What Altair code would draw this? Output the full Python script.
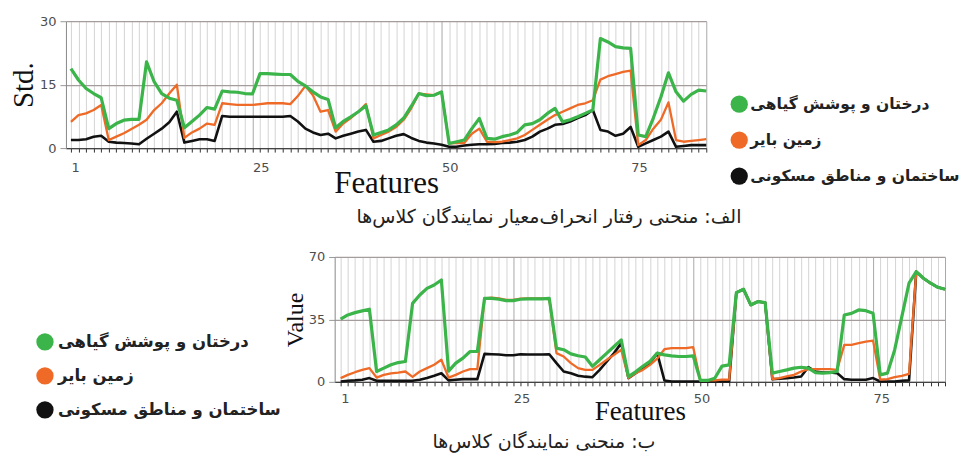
import altair as alt
import pandas as pd

features = list(range(1, 86))
classes = ["درختان و پوشش گیاهی", "زمین بایر", "ساختمان و مناطق مسکونی"]
colors = ["#3bb44a", "#ee6a26", "#111111"]
x_label_values = [1, 25, 50, 75]
std_ticks = [0, 15, 30]
value_ticks = [0, 35, 70]
caption_top = "الف: منحنی رفتار انحراف\u200cمعیار نمایندگان کلاس\u200cها"
caption_bottom = "ب: منحنی نمایندگان کلاس\u200cها"

std_green = [18.8, 16.1, 14.1, 12.9, 11.9, 4.6, 5.8, 6.6, 6.8, 6.8,
             20.4, 15.7, 12.9, 11.8, 11.3, 4.8, 6.3, 7.8, 9.6, 9.2,
             13.5, 13.3, 13.2, 12.9, 12.8, 17.6, 17.6, 17.5, 17.4, 17.4,
             15.8, 14.7, 13.3, 12.1, 11.5, 4.8, 6.3, 7.4, 8.6, 10.0,
             3.1, 3.7, 4.3, 5.5, 7.1, 9.9, 12.9, 12.4, 12.5, 13.3,
             1.1, 1.5, 1.9, 4.6, 7.0, 2.3, 2.1, 2.7, 3.1, 3.7,
             5.5, 5.8, 6.7, 8.2, 9.4, 6.2, 6.7, 7.4, 8.2, 9.0,
             25.9, 25.1, 24.0, 23.7, 23.6, 3.1, 2.7, 7.1, 12.1, 17.8,
             13.3, 11.1, 12.7, 13.7, 13.5]
std_orange = [6.2, 7.8, 8.2, 9.0, 10.2, 1.9, 2.7, 3.5, 4.5, 5.5,
              6.7, 9.0, 10.6, 12.9, 15.0, 2.4, 3.7, 4.6, 5.8, 5.5,
              10.6, 10.4, 10.2, 10.2, 10.2, 10.4, 10.6, 10.6, 10.6, 10.4,
              12.3, 14.7, 12.5, 8.6, 9.0, 3.9, 5.8, 7.1, 8.6, 10.4,
              2.3, 3.1, 3.9, 5.0, 6.7, 9.4, 12.9, 12.7, 12.5, 13.3,
              1.1, 1.2, 1.2, 3.4, 4.6, 1.5, 1.4, 1.5, 1.9, 2.3,
              3.1, 4.3, 5.5, 6.7, 7.8, 8.6, 9.4, 10.2, 10.6, 11.3,
              16.2, 17.0, 17.5, 18.0, 18.3, 0.7, 1.9, 4.6, 6.7, 10.8,
              1.9, 1.5, 1.7, 1.9, 2.1]
std_black = [1.9, 1.9, 2.1, 2.7, 2.9, 1.5, 1.3, 1.2, 1.1, 0.9,
             2.2, 3.4, 4.6, 6.1, 8.6, 1.3, 1.7, 2.1, 2.1, 1.7,
             7.6, 7.4, 7.4, 7.4, 7.4, 7.4, 7.4, 7.4, 7.4, 7.6,
             6.3, 4.6, 3.7, 3.1, 3.4, 2.3, 2.9, 3.4, 3.9, 4.3,
             1.5, 1.7, 2.3, 2.9, 3.3, 2.4, 1.7, 1.3, 1.1, 0.8,
             0.3, 0.3, 0.6, 0.8, 0.9, 0.9, 1.0, 1.2, 1.3, 1.5,
             1.9, 2.7, 3.9, 4.6, 5.5, 5.7, 6.3, 7.1, 7.8, 9.0,
             4.3, 3.9, 2.9, 3.4, 5.0, 0.3, 1.1, 1.9, 2.7, 3.9,
             0.3, 0.5, 0.7, 0.7, 0.7]

val_green = [35.1, 37.5, 38.8, 39.8, 40.7, 5.8, 7.7, 9.6, 10.8, 11.4,
             44.0, 48.7, 52.4, 54.3, 57.1, 6.0, 10.5, 13.3, 17.0, 17.0,
             46.8, 46.8, 46.3, 45.5, 45.5, 46.3, 46.5, 46.5, 46.5, 46.8,
             18.9, 18.0, 15.7, 14.6, 13.9, 8.7, 12.4, 16.1, 19.8, 23.5,
             2.9, 5.6, 8.7, 11.5, 16.1, 15.1, 14.6, 14.2, 14.2, 14.6,
             0.8, 0.8, 2.0, 8.8, 9.5, 50.0, 51.9, 43.1, 45.0, 44.4,
             4.9, 5.8, 6.7, 7.7, 8.2, 7.7, 5.2, 4.9, 5.2, 5.8,
             37.5, 38.4, 40.3, 39.9, 38.4, 3.9, 4.9, 17.9, 36.6, 55.3,
             61.8, 58.1, 55.3, 53.0, 51.9]
val_orange = [2.1, 3.9, 5.4, 6.7, 7.7, 2.4, 3.9, 4.8, 5.2, 5.8,
              2.8, 5.8, 7.7, 9.6, 12.4, 2.4, 3.9, 5.8, 7.1, 7.1,
              46.8, 47.2, 46.8, 46.0, 46.0, 46.6, 46.8, 46.8, 46.8, 46.3,
              16.1, 14.2, 10.5, 7.7, 6.7, 6.7, 9.5, 12.4, 15.1, 18.0,
              2.1, 4.8, 6.7, 9.5, 13.0, 18.3, 18.9, 18.9, 18.9, 19.4,
              0.8, 0.8, 0.8, 1.2, 1.2, 50.0, 51.9, 43.1, 45.0, 44.4,
              1.5, 2.1, 3.0, 3.9, 5.8, 7.1, 7.1, 7.1, 7.1, 6.7,
              20.7, 20.7, 21.7, 22.6, 23.1, 1.2, 1.5, 2.6, 3.4, 4.5,
              61.8, 58.1, 55.3, 53.0, 51.9]
val_black = [0.2, 0.6, 0.8, 1.2, 2.1, 0.6, 0.6, 0.6, 0.6, 0.6,
             0.6, 1.2, 2.1, 3.4, 4.8, 0.8, 1.2, 1.5, 1.5, 1.5,
             15.7, 15.5, 15.3, 14.9, 14.9, 15.5, 15.3, 15.3, 15.3, 15.5,
             10.5, 5.8, 4.8, 3.4, 2.9, 2.6, 6.7, 11.4, 16.1, 21.7,
             2.1, 4.8, 7.7, 10.5, 16.1, 0.8, 0.2, 0.2, 0.2, 0.2,
             0.2, 0.2, 0.2, 0.2, 0.2, 50.0, 51.9, 43.1, 45.0, 44.4,
             1.5, 1.7, 2.1, 2.4, 3.0, 8.2, 5.8, 5.2, 5.2, 4.9,
             1.5, 1.2, 1.2, 1.2, 2.1, 0.2, 0.2, 0.2, 0.6, 0.8,
             61.8, 58.1, 55.3, 53.0, 51.9]


def long_df(series):
    rows = []
    for cls, vals in zip(classes, series):
        for f, v in zip(features, vals):
            rows.append({"feature": f, "value": v, "cls": cls})
    return pd.DataFrame(rows)


color_scale = alt.Scale(domain=classes, range=colors)
widths = {classes[0]: 3.2, classes[1]: 2.3, classes[2]: 2.6}
grid_cond = {"condition": {"test": "datum.value % 25 == 0 || datum.value == 85",
                           "value": "#a9a9a9"}, "value": "#d4d4d4"}
label_expr = "indexof([1, 25, 50, 75], datum.value) >= 0 ? datum.label : ''"


def line_chart(df, domain_x, y_vals, y_title, w, h, x_title_size, label_pad_x,
               title_pad_x, y_title_size, caption, cap_dx, cap_offset):
    x = alt.X("feature:Q",
              scale=alt.Scale(domain=domain_x, nice=False, zero=False),
              axis=alt.Axis(values=features, labelExpr=label_expr,
                            labelOverlap=False, labelAlign="left",
                            labelFont="DejaVu Sans", labelFontSize=13,
                            labelColor="#4d4d4d", labelPadding=label_pad_x,
                            labelBound=False, labelFlush=False,
                            tickSize=4, tickColor="#333", tickWidth=1,
                            domainColor="#444", domainWidth=1.2,
                            grid=True, gridColor=grid_cond, gridWidth=1,
                            title="Features", titleFont="Liberation Serif",
                            titleFontSize=x_title_size, titleFontWeight="normal",
                            titleColor="#111", titlePadding=title_pad_x))
    y = alt.Y("value:Q",
              scale=alt.Scale(domain=[y_vals[0], y_vals[-1]], nice=False),
              axis=alt.Axis(values=y_vals, labelFont="DejaVu Sans",
                            labelFontSize=13, labelColor="#4d4d4d",
                            labelPadding=4, tickSize=6, tickColor="#999",
                            domainColor="#888", grid=True, gridColor="#a59c9c",
                            gridWidth=1.3, title=y_title,
                            titleFont="Liberation Serif",
                            titleFontSize=y_title_size, titleFontWeight="normal",
                            titleColor="#111", titlePadding=1))
    layers = []
    for cls in [classes[2], classes[1], classes[0]]:
        layers.append(
            alt.Chart(df).transform_filter(alt.datum.cls == cls)
            .mark_line(strokeWidth=widths[cls], strokeJoin="round")
            .encode(x=x, y=y,
                    color=alt.Color("cls:N", scale=color_scale, legend=None))
        )
    return alt.layer(*layers).properties(
        width=w, height=h,
        title=alt.TitleParams(text=caption, orient="bottom", anchor="middle",
                              frame="group", dx=cap_dx, offset=cap_offset,
                              font="DejaVu Sans", fontSize=19,
                              fontWeight="normal", color="#222"))


def legend_chart(y_range, cx, tx, w, h, fsize):
    ldf = pd.DataFrame({"cls": classes})
    y = alt.Y("cls:N", sort=classes,
              scale=alt.Scale(range=y_range, padding=0), axis=None)
    dots = alt.Chart(ldf).mark_circle(size=300, opacity=1).encode(
        x=alt.value(cx), y=y,
        color=alt.Color("cls:N", scale=color_scale, legend=None))
    texts = alt.Chart(ldf).mark_text(
        align="left", baseline="middle", font="DejaVu Sans",
        fontWeight="bold", fontSize=fsize, color="#222").encode(
        x=alt.value(tx), y=y, text="cls:N")
    return alt.layer(dots, texts).properties(width=w, height=h)


top_chart = line_chart(long_df([std_green, std_orange, std_black]),
                       [0.34, 85], std_ticks, "Std.", 641, 127, 31, 9, -6, 29,
                       caption_top, 163, 10)
bottom_chart = line_chart(long_df([val_green, val_orange, val_black]),
                          [0.17, 85], value_ticks, "Value", 611, 125, 27, 7, -7,
                          24, caption_bottom, -96, 8)

top_legend = legend_chart([83, 155], 13, 24, 200, 127, 15.5)
bottom_legend = legend_chart([85, 153], -21, -8, 259, 125, 16.5)

top_row = alt.hconcat(top_chart, top_legend, spacing=20, bounds="flush")
bottom_row = alt.hconcat(bottom_legend, bottom_chart, spacing=10, bounds="flush")

chart = alt.vconcat(top_row, bottom_row, spacing=236, bounds="flush").properties(
    padding={"left": 1, "top": 7, "right": 0, "bottom": 2},
    background="white",
).configure_view(stroke=None)

chart.save("out.html", embed_options={"renderer": "svg", "actions": False})
